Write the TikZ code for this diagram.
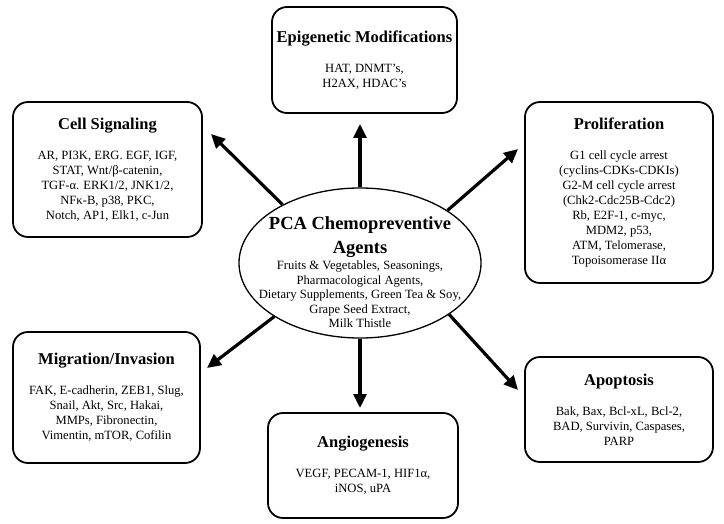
\documentclass[tikz,border=0pt]{standalone}
\usepackage{fontspec}
\setmainfont{Liberation Serif}
\usetikzlibrary{arrows.meta,shapes.geometric}

\tikzset{
	topic/.style={draw, line width=1.8pt, rounded corners=15pt, align=center,
		inner sep=0pt, font=\fontsize{12.6}{15}\selectfont},
	agents/.style={draw, ellipse, line width=1.3pt, inner sep=0pt},
	spoke/.style={line width=3.2pt, -{Triangle[length=14pt,width=13pt]}}
}
\newcommand{\headline}[1]{{\fontsize{16.5}{19}\selectfont\bfseries #1}\\[15pt]}
\newcommand{\bigfont}{\fontsize{18.5}{22}\selectfont\bfseries}

\begin{document}
\begin{tikzpicture}[x=1pt,y=-1pt]

	\useasboundingbox (0,0) rectangle (724,524);

	% outer boxes
	\node[topic, minimum width=185pt, minimum height=106pt] (epi) at (364.5,60)
		{\headline{Epigenetic Modifications}HAT, DNMT's,\\H2AX, HDAC's};
	\node[topic, minimum width=189pt, minimum height=135pt] (cell) at (107.5,169.5)
		{\headline{Cell Signaling}AR, PI3K, ERG. EGF, IGF,\\STAT, Wnt/β-catenin,\\TGF-α. ERK1/2, JNK1/2,\\NFκ-B, p38, PKC,\\Notch, AP1, Elk1, c-Jun};
	\node[topic, minimum width=188pt, minimum height=181pt] (prol) at (619,192.5)
		{\headline{Proliferation}G1 cell cycle arrest\\(cyclins-CDKs-CDKIs)\\G2-M cell cycle arrest\\(Chk2-Cdc25B-Cdc2)\\Rb, E2F-1, c-myc,\\MDM2, p53,\\ATM, Telomerase,\\Topoisomerase IIα};
	\node[topic, minimum width=187pt, minimum height=131pt] (mig) at (106.5,397.5)
		{\headline{Migration/Invasion}FAK, E-cadherin, ZEB1, Slug,\\Snail, Akt, Src, Hakai,\\MMPs, Fibronectin,\\Vimentin, mTOR, Cofilin};
	\node[topic, minimum width=190pt, minimum height=105pt] (ang) at (363,465.5)
		{\headline{Angiogenesis}VEGF, PECAM-1, HIF1α,\\iNOS, uPA};
	\node[topic, minimum width=188pt, minimum height=105pt] (apo) at (619,409.5)
		{\headline{Apoptosis}Bak, Bax, Bcl-xL, Bcl-2,\\BAD, Survivin, Caspases,\\PARP};

	% centre
	\node[agents, minimum width=242pt, minimum height=150pt] (pca) at (360,263) {};
	\node[align=center, font=\fontsize{12.6}{14.5}\selectfont] (pcatext) at (360,272)
		{\bigfont PCA Chemopreventive\\[7pt]\bigfont Agents\\[2pt]
		Fruits \& Vegetables, Seasonings,\\Pharmacological Agents,\\
		Dietary Supplements, Green Tea \& Soy,\\Grape Seed Extract,\\Milk Thistle};

	% arrow tips
	\coordinate (tipepi) at (360,124);
	\coordinate (tipcell) at (211,134);
	\coordinate (tipprol) at (518,149);
	\coordinate (tipmig) at (207,368);
	\coordinate (tipapo) at (518,390);
	\coordinate (tipang) at (360,408);

	\draw[spoke] (pca.north) -- (tipepi);
	\draw[spoke] (pca.143) -- (tipcell);
	\draw[spoke] (pca.31) -- (tipprol);
	\draw[spoke] (pca.212) -- (tipmig);
	\draw[spoke] (pca.330) -- (tipapo);
	\draw[spoke] (pca.south) -- (tipang);

\end{tikzpicture}
\end{document}
